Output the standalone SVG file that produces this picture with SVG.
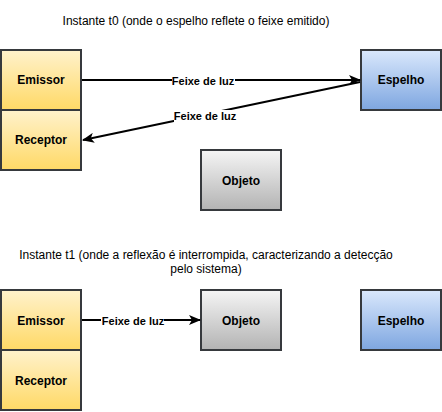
<svg xmlns="http://www.w3.org/2000/svg" width="442" height="412" viewBox="0 0 442 412">
<defs>
<linearGradient id="gy" x1="0" y1="0" x2="0" y2="1"><stop offset="0" stop-color="#fff2cc"/><stop offset="1" stop-color="#ffd966"/></linearGradient>
<linearGradient id="gb" x1="0" y1="0" x2="0" y2="1"><stop offset="0" stop-color="#dae8fc"/><stop offset="1" stop-color="#7ea6e0"/></linearGradient>
<linearGradient id="gg" x1="0" y1="0" x2="0" y2="1"><stop offset="0" stop-color="#f5f5f5"/><stop offset="1" stop-color="#b3b3b3"/></linearGradient>
<marker id="ah" viewBox="0 0 12 10" refX="11" refY="5" markerWidth="12" markerHeight="10" markerUnits="userSpaceOnUse" orient="auto">
<path d="M0,0 L12,5 L0,10 L3,5 Z" fill="#000"/>
</marker>
<style>
.box{stroke:#36393d;stroke-width:2}
.nl{font-family:"Liberation Sans",Arial,sans-serif;font-size:12px;font-weight:bold;fill:#000;text-anchor:middle}
.el{font-family:"Liberation Sans",Arial,sans-serif;font-size:11px;font-weight:bold;fill:#000;text-anchor:middle}
.tt{font-family:"Liberation Sans",Arial,sans-serif;font-size:12px;fill:#000;text-anchor:middle}
.ln{stroke:#000;stroke-width:2;fill:none;marker-end:url(#ah)}
</style>
</defs>
<rect width="442" height="412" fill="#fff"/>
<g id="title-t0"><text class="tt" x="196" y="25">Instante t0 (onde o espelho reflete o feixe emitido)</text></g>
<g id="title-t1"><text class="tt" x="206" y="259">Instante t1 (onde a reflexão é interrompida, caracterizando a detecção</text><text class="tt" x="206" y="273">pelo sistema)</text></g>
<g id="emissor0"><rect class="box" x="1" y="50" width="80" height="60" fill="url(#gy)"/><text class="nl" x="41" y="84">Emissor</text></g>
<g id="receptor0"><rect class="box" x="1" y="110" width="80" height="60" fill="url(#gy)"/><text class="nl" x="41" y="144">Receptor</text></g>
<g id="espelho0"><rect class="box" x="361" y="50" width="80" height="60" fill="url(#gb)"/><text class="nl" x="401" y="84">Espelho</text></g>
<g id="objeto0"><rect class="box" x="201" y="150" width="80" height="60" fill="url(#gg)"/><text class="nl" x="241" y="185">Objeto</text></g>
<g id="emissor1"><rect class="box" x="1" y="290" width="80" height="60" fill="url(#gy)"/><text class="nl" x="41" y="325">Emissor</text></g>
<g id="receptor1"><rect class="box" x="1" y="350" width="80" height="60" fill="url(#gy)"/><text class="nl" x="41" y="385">Receptor</text></g>
<g id="objeto1"><rect class="box" x="201" y="290" width="80" height="60" fill="url(#gg)"/><text class="nl" x="241" y="325">Objeto</text></g>
<g id="espelho1"><rect class="box" x="361" y="290" width="80" height="60" fill="url(#gb)"/><text class="nl" x="401" y="325">Espelho</text></g>
<g id="connectors">
<line class="ln" x1="82" y1="80" x2="360" y2="80"/>
<rect x="172" y="75" width="63" height="12" fill="#fff"/>
<text class="el" x="203" y="85">Feixe de luz</text>
<line class="ln" x1="360" y1="82" x2="83" y2="140"/>
<rect x="174" y="110" width="63" height="12" fill="#fff"/>
<text class="el" x="205" y="120">Feixe de luz</text>
<line class="ln" x1="82" y1="320" x2="200" y2="320"/>
<rect x="101" y="315" width="63" height="11" fill="#fff"/>
<text class="el" x="133" y="325">Feixe de luz</text>
</g>
</svg>
